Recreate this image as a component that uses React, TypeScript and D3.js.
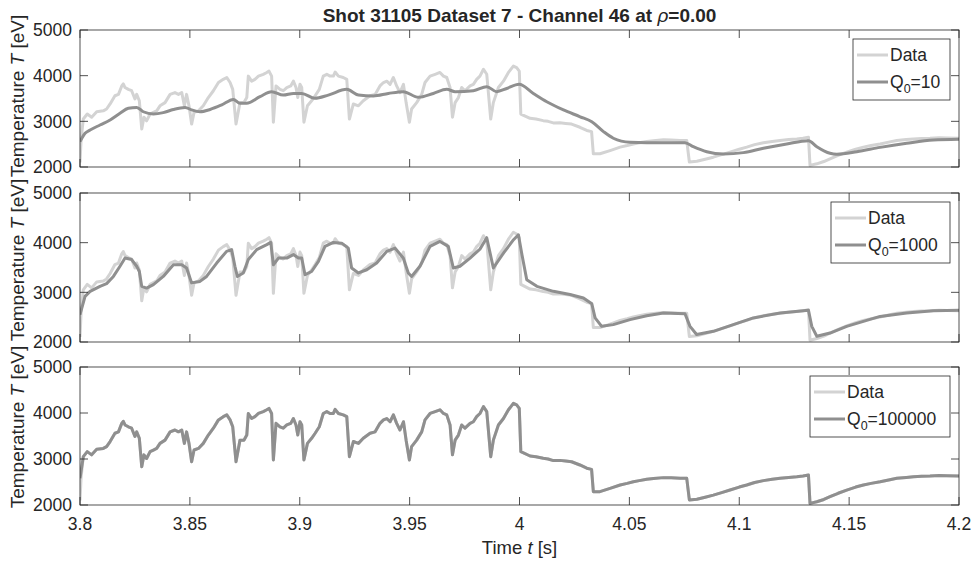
import React from "react";
import * as d3 from "d3";

const FONT = '"Liberation Sans", Arial, Helvetica, sans-serif';
const TEXT = "#262626";

const titleText = "Shot 31105 Dataset 7 - Channel 46 at ";
const xTicks = [3.8, 3.85, 3.9, 3.95, 4.0, 4.05, 4.1, 4.15, 4.2];
const xTickLabels = ["3.8", "3.85", "3.9", "3.95", "4", "4.05", "4.1", "4.15", "4.2"];
const yTicks = [2000, 3000, 4000, 5000];
const legendLabels = ["10", "1000", "100000"];

// Measured data (same in every panel)
const dataSeries: [number, number][] = [
  [3.8, 2100], [3.8005, 2600], [3.8015, 3050], [3.8033, 3160], [3.8053, 3090], [3.8076, 3210],
  [3.8106, 3230], [3.8121, 3270], [3.8137, 3380], [3.8159, 3560], [3.8175, 3590], [3.819, 3775],
  [3.8197, 3820], [3.8205, 3740], [3.822, 3700], [3.8235, 3670], [3.825, 3490], [3.8258, 3590],
  [3.827, 3450], [3.8281, 2830], [3.8291, 3090], [3.8303, 3010], [3.8319, 3160], [3.8334, 3195],
  [3.8349, 3230], [3.8364, 3340], [3.8387, 3410], [3.841, 3590], [3.8432, 3630], [3.8448, 3590],
  [3.8463, 3630], [3.8475, 3340], [3.8485, 3590], [3.8496, 3340], [3.8508, 2940], [3.8519, 3195],
  [3.8539, 3230], [3.8561, 3340], [3.8584, 3520], [3.8607, 3670], [3.863, 3850], [3.8652, 3920],
  [3.8668, 3960], [3.8683, 3850], [3.8695, 3700], [3.871, 2940], [3.8728, 3410], [3.8746, 3410],
  [3.8759, 3520], [3.8766, 3990], [3.8781, 3880], [3.8796, 3920], [3.8812, 3990], [3.8834, 4030],
  [3.885, 4070], [3.886, 4100], [3.8872, 3990], [3.888, 2980], [3.8892, 3775], [3.891, 3700],
  [3.8925, 3670], [3.8941, 3740], [3.8959, 3775], [3.8971, 3880], [3.8983, 3740], [3.8991, 3520],
  [3.9001, 3810], [3.9009, 3740], [3.9019, 2980], [3.9035, 3340], [3.9054, 3450], [3.907, 3560],
  [3.9089, 3700], [3.9107, 3990], [3.9123, 4030], [3.9138, 3990], [3.9153, 3990], [3.9161, 4080],
  [3.9176, 3990], [3.9198, 3960], [3.9214, 3920], [3.9226, 3050], [3.9244, 3380], [3.9267, 3340],
  [3.9289, 3450], [3.932, 3560], [3.9343, 3590], [3.9365, 3775], [3.9381, 3850], [3.9396, 3880],
  [3.9411, 3810], [3.9426, 3960], [3.9441, 3775], [3.9456, 3630], [3.9472, 3810], [3.9484, 3410],
  [3.9499, 2980], [3.9509, 3270], [3.9532, 3410], [3.9555, 3590], [3.957, 3850], [3.9593, 3990],
  [3.9616, 4030], [3.9638, 4070], [3.9654, 3990], [3.9669, 3960], [3.9684, 3740], [3.9695, 3090],
  [3.9707, 3410], [3.9722, 3520], [3.9737, 3740], [3.9752, 3670], [3.9775, 3775], [3.979, 3810],
  [3.9805, 3920], [3.982, 3990], [3.9836, 4140], [3.9851, 4030], [3.9869, 3050], [3.9881, 3410],
  [3.9904, 3740], [3.9927, 3880], [3.9949, 4065], [3.9972, 4210], [3.9987, 4175], [3.9999, 4100],
  [4.0006, 3160], [4.0048, 3065], [4.0075, 3050], [4.0108, 3015], [4.013, 3000], [4.0154, 2965],
  [4.0184, 2970], [4.021, 2955], [4.0237, 2940], [4.0275, 2870], [4.0306, 2800], [4.0328, 2775],
  [4.0336, 2290], [4.0366, 2290], [4.0412, 2360], [4.0458, 2435], [4.049, 2470], [4.0518, 2505],
  [4.0545, 2530], [4.0579, 2560], [4.061, 2575], [4.0655, 2595], [4.069, 2590], [4.0731, 2580],
  [4.0761, 2580], [4.0773, 2110], [4.0807, 2125], [4.0845, 2170], [4.0882, 2215], [4.092, 2270],
  [4.0958, 2325], [4.1, 2390], [4.1034, 2435], [4.107, 2490], [4.111, 2530], [4.115, 2560],
  [4.1186, 2580], [4.1225, 2600], [4.1262, 2615], [4.129, 2630], [4.1315, 2650], [4.1322, 2035],
  [4.1353, 2070], [4.1385, 2120], [4.1413, 2180], [4.145, 2255], [4.1489, 2325], [4.153, 2390],
  [4.1565, 2435], [4.16, 2470], [4.1641, 2505], [4.168, 2545], [4.1717, 2580], [4.176, 2600],
  [4.1793, 2615], [4.183, 2625], [4.1868, 2630], [4.191, 2640], [4.1944, 2635], [4.2, 2630],
];

// Model, Q0 = 10
const modelQ10: [number, number][] = [
  [3.8, 2555], [3.8023, 2737], [3.8046, 2810], [3.8091, 2920], [3.8137, 3030], [3.8182, 3175],
  [3.822, 3285], [3.8258, 3305], [3.8288, 3210], [3.8334, 3160], [3.8379, 3190], [3.8425, 3260],
  [3.8478, 3305], [3.8508, 3250], [3.8546, 3210], [3.8592, 3260], [3.8645, 3360], [3.8698, 3480],
  [3.8728, 3395], [3.8758, 3395], [3.8819, 3540], [3.8872, 3650], [3.8925, 3575], [3.8971, 3610],
  [3.9009, 3610], [3.9069, 3505], [3.913, 3575], [3.9214, 3700], [3.9267, 3575], [3.9335, 3555],
  [3.9403, 3610], [3.9471, 3650], [3.954, 3525], [3.9608, 3610], [3.9669, 3700], [3.9707, 3650],
  [3.979, 3670], [3.9851, 3760], [3.9896, 3650], [3.9942, 3720], [3.9998, 3810], [4.0063, 3610],
  [4.0124, 3430], [4.02, 3250], [4.0276, 3100], [4.0329, 2990], [4.0382, 2775], [4.0427, 2630],
  [4.0503, 2540], [4.0579, 2533], [4.067, 2533], [4.0753, 2533], [4.0791, 2445], [4.0852, 2335],
  [4.0928, 2285], [4.1019, 2315], [4.111, 2410], [4.1216, 2505], [4.1315, 2575], [4.1353, 2445],
  [4.1413, 2300], [4.1444, 2280], [4.1535, 2335], [4.1641, 2430], [4.1762, 2520], [4.1883, 2590],
  [4.2, 2605],
];

// Model, Q0 = 1000
const modelQ1000: [number, number][] = [
  [3.8, 2550], [3.8023, 2920], [3.8046, 3020], [3.8091, 3120], [3.8121, 3175], [3.8152, 3320],
  [3.8182, 3525], [3.8205, 3690], [3.8235, 3660], [3.8258, 3525], [3.827, 3420], [3.8281, 3120],
  [3.8303, 3085], [3.8334, 3155], [3.8379, 3320], [3.8425, 3555], [3.8463, 3555], [3.8485, 3490],
  [3.8508, 3190], [3.8546, 3220], [3.8576, 3320], [3.8622, 3590], [3.8667, 3825], [3.869, 3860],
  [3.8705, 3525], [3.8716, 3320], [3.8743, 3390], [3.8766, 3660], [3.8804, 3860], [3.885, 3960],
  [3.8868, 4005], [3.888, 3555], [3.8903, 3690], [3.8941, 3690], [3.8971, 3760], [3.8994, 3690],
  [3.9009, 3690], [3.9024, 3355], [3.9054, 3420], [3.9085, 3625], [3.9115, 3925], [3.9153, 4005],
  [3.9191, 3990], [3.9221, 3890], [3.9236, 3490], [3.9267, 3390], [3.9305, 3455], [3.935, 3590],
  [3.9396, 3825], [3.9434, 3890], [3.9471, 3690], [3.9494, 3390], [3.9509, 3320], [3.9547, 3525],
  [3.9593, 3925], [3.9638, 4025], [3.9676, 3925], [3.9699, 3490], [3.9729, 3525], [3.9775, 3690],
  [3.982, 3870], [3.9851, 4100], [3.9881, 3490], [3.9927, 3790], [3.9973, 4060], [3.9995, 4160],
  [4.0011, 3760], [4.0033, 3255], [4.0079, 3120], [4.0154, 3020], [4.023, 2955], [4.0291, 2885],
  [4.0329, 2770], [4.0344, 2485], [4.0374, 2315], [4.0427, 2350], [4.0503, 2450], [4.0579, 2530],
  [4.0655, 2585], [4.0753, 2570], [4.0776, 2315], [4.0806, 2150], [4.0882, 2215], [4.0973, 2350],
  [4.1064, 2485], [4.1186, 2585], [4.1315, 2640], [4.133, 2315], [4.1353, 2115], [4.1413, 2180],
  [4.1489, 2315], [4.1565, 2415], [4.1641, 2515], [4.1762, 2585], [4.1883, 2630], [4.2, 2640],
];

// Model, Q0 = 100000 (follows the data almost exactly)
const modelQ100000: [number, number][] = [
  [3.8, 2580], [3.8015, 3050], [3.8033, 3160], [3.8053, 3090], [3.8076, 3210],
  [3.8106, 3230], [3.8121, 3270], [3.8137, 3380], [3.8159, 3560], [3.8175, 3590], [3.819, 3775],
  [3.8197, 3820], [3.8205, 3740], [3.822, 3700], [3.8235, 3670], [3.825, 3490], [3.8258, 3590],
  [3.827, 3450], [3.8281, 2830], [3.8291, 3090], [3.8303, 3010], [3.8319, 3160], [3.8334, 3195],
  [3.8349, 3230], [3.8364, 3340], [3.8387, 3410], [3.841, 3590], [3.8432, 3630], [3.8448, 3590],
  [3.8463, 3630], [3.8475, 3340], [3.8485, 3590], [3.8496, 3340], [3.8508, 2940], [3.8519, 3195],
  [3.8539, 3230], [3.8561, 3340], [3.8584, 3520], [3.8607, 3670], [3.863, 3850], [3.8652, 3920],
  [3.8668, 3960], [3.8683, 3850], [3.8695, 3700], [3.871, 2940], [3.8728, 3410], [3.8746, 3410],
  [3.8759, 3520], [3.8766, 3990], [3.8781, 3880], [3.8796, 3920], [3.8812, 3990], [3.8834, 4030],
  [3.885, 4070], [3.886, 4100], [3.8872, 3990], [3.888, 2980], [3.8892, 3775], [3.891, 3700],
  [3.8925, 3670], [3.8941, 3740], [3.8959, 3775], [3.8971, 3880], [3.8983, 3740], [3.8991, 3520],
  [3.9001, 3810], [3.9009, 3740], [3.9019, 2980], [3.9035, 3340], [3.9054, 3450], [3.907, 3560],
  [3.9089, 3700], [3.9107, 3990], [3.9123, 4030], [3.9138, 3990], [3.9153, 3990], [3.9161, 4080],
  [3.9176, 3990], [3.9198, 3960], [3.9214, 3920], [3.9226, 3050], [3.9244, 3380], [3.9267, 3340],
  [3.9289, 3450], [3.932, 3560], [3.9343, 3590], [3.9365, 3775], [3.9381, 3850], [3.9396, 3880],
  [3.9411, 3810], [3.9426, 3960], [3.9441, 3775], [3.9456, 3630], [3.9472, 3810], [3.9484, 3410],
  [3.9499, 2980], [3.9509, 3270], [3.9532, 3410], [3.9555, 3590], [3.957, 3850], [3.9593, 3990],
  [3.9616, 4030], [3.9638, 4070], [3.9654, 3990], [3.9669, 3960], [3.9684, 3740], [3.9695, 3090],
  [3.9707, 3410], [3.9722, 3520], [3.9737, 3740], [3.9752, 3670], [3.9775, 3775], [3.979, 3810],
  [3.9805, 3920], [3.982, 3990], [3.9836, 4140], [3.9851, 4030], [3.9869, 3050], [3.9881, 3410],
  [3.9904, 3740], [3.9927, 3880], [3.9949, 4065], [3.9972, 4210], [3.9987, 4175], [3.9999, 4100],
  [4.0006, 3160], [4.0048, 3065], [4.0075, 3050], [4.0108, 3015], [4.013, 3000], [4.0154, 2965],
  [4.0184, 2970], [4.021, 2955], [4.0237, 2940], [4.0275, 2870], [4.0306, 2800], [4.0328, 2775],
  [4.0336, 2290], [4.0366, 2290], [4.0412, 2360], [4.0458, 2435], [4.049, 2470], [4.0518, 2505],
  [4.0545, 2530], [4.0579, 2560], [4.061, 2575], [4.0655, 2595], [4.069, 2590], [4.0731, 2580],
  [4.0761, 2580], [4.0773, 2110], [4.0807, 2125], [4.0845, 2170], [4.0882, 2215], [4.092, 2270],
  [4.0958, 2325], [4.1, 2390], [4.1034, 2435], [4.107, 2490], [4.111, 2530], [4.115, 2560],
  [4.1186, 2580], [4.1225, 2600], [4.1262, 2615], [4.129, 2630], [4.1315, 2650], [4.1322, 2035],
  [4.1353, 2070], [4.1385, 2120], [4.1413, 2180], [4.145, 2255], [4.1489, 2325], [4.153, 2390],
  [4.1565, 2435], [4.16, 2470], [4.1641, 2505], [4.168, 2545], [4.1717, 2580], [4.176, 2600],
  [4.1793, 2615], [4.183, 2625], [4.1868, 2630], [4.191, 2640], [4.1944, 2635], [4.2, 2630],
];

const models = [modelQ10, modelQ1000, modelQ100000];

const X0 = 80;
const X1 = 959;
const panels = [
  { top: 30, bottom: 167, labelY: 96, legendW: 97 },
  { top: 193, bottom: 342, labelY: 260, legendW: 119 },
  { top: 367, bottom: 505, labelY: 427, legendW: 140 },
];

const DATA_COLOR = "#d3d3d3";
const MODEL_COLOR = "#8f8f8f";

const x = d3.scaleLinear().domain([3.8, 4.2]).range([X0, X1]);

function Panel({ i }: { i: number }) {
  const p = panels[i];
  const y = d3.scaleLinear().domain([2000, 5000]).range([p.bottom, p.top]);
  const lin = d3.line<[number, number]>().x((d) => x(d[0])).y((d) => y(d[1]));
  const modelLine = d3
    .line<[number, number]>()
    .x((d) => x(d[0]))
    .y((d) => y(d[1]))
    .curve(i === 0 ? d3.curveMonotoneX : d3.curveLinear);
  const clipId = `clip${i}`;
  const tl = 8;
  const lx = X1 - 9 - p.legendW;
  const ly = p.top + 9;
  const lh = 61;
  return (
    <g>
      <defs>
        <clipPath id={clipId}>
          <rect x={X0} y={p.top} width={X1 - X0} height={p.bottom - p.top} />
        </clipPath>
      </defs>
      <rect x={X0} y={p.top} width={X1 - X0} height={p.bottom - p.top} fill="#fff" />
      <g clipPath={`url(#${clipId})`}>
        <path d={lin(dataSeries) || ""} fill="none" stroke={DATA_COLOR} strokeWidth={3} strokeLinejoin="round" />
        <path d={modelLine(models[i]) || ""} fill="none" stroke={MODEL_COLOR} strokeWidth={3} strokeLinejoin="round" />
      </g>
      {xTicks.map((t, k) => (
        <g key={`xt${k}`}>
          <line x1={x(t)} x2={x(t)} y1={p.bottom} y2={p.bottom - tl} stroke={TEXT} strokeWidth={0.8} />
          <line x1={x(t)} x2={x(t)} y1={p.top} y2={p.top + tl} stroke={TEXT} strokeWidth={0.8} />
        </g>
      ))}
      {yTicks.map((t, k) => (
        <g key={`yt${k}`}>
          <line x1={X0} x2={X0 + tl} y1={y(t)} y2={y(t)} stroke={TEXT} strokeWidth={0.8} />
          <line x1={X1} x2={X1 - tl} y1={y(t)} y2={y(t)} stroke={TEXT} strokeWidth={0.8} />
          <text x={72} y={y(t)} dy="0.36em" textAnchor="end" fontSize={17.5} fill={TEXT} fontFamily={FONT}>
            {t}
          </text>
        </g>
      ))}
      <rect x={X0} y={p.top} width={X1 - X0} height={p.bottom - p.top} fill="none" stroke={TEXT} strokeWidth={0.8} />
      {i === 2 &&
        xTicks.map((t, k) => (
          <text key={`xl${k}`} x={x(t)} y={530} textAnchor="middle" fontSize={17.5} fill={TEXT} fontFamily={FONT}>
            {xTickLabels[k]}
          </text>
        ))}
      <text
        transform={`translate(24,${p.labelY}) rotate(-90)`}
        textAnchor="middle"
        fontSize={19}
        fill={TEXT}
        fontFamily={FONT}
      >
        Temperature <tspan fontStyle="italic">T</tspan> [eV]
      </text>
      <g fontFamily={FONT} fontSize={17.5} fill={TEXT}>
        <rect x={lx} y={ly} width={p.legendW} height={lh} fill="#fff" stroke={TEXT} strokeWidth={0.8} />
        <line x1={lx + 4} x2={lx + 35} y1={ly + 16} y2={ly + 16} stroke={DATA_COLOR} strokeWidth={3} />
        <text x={lx + 37} y={ly + 16} dy="0.36em">Data</text>
        <line x1={lx + 4} x2={lx + 35} y1={ly + 43} y2={ly + 43} stroke={MODEL_COLOR} strokeWidth={3} />
        <text x={lx + 37} y={ly + 43} dy="0.36em">
          Q<tspan fontSize={12.5} dy="5">0</tspan>
          <tspan dy="-5">={legendLabels[i]}</tspan>
        </text>
      </g>
    </g>
  );
}

export default function App() {
  return (
    <svg
      width={974}
      height={563}
      style={{ position: "absolute", left: 0, top: 0, background: "#fff" }}
    >
      <rect x={0} y={0} width={974} height={563} fill="#fff" />
      {panels.map((_, i) => (
        <Panel key={i} i={i} />
      ))}
      <text x={(X0 + X1) / 2} y={22} textAnchor="middle" fontSize={19} fontWeight="bold" fill={TEXT} fontFamily={FONT}>
        {titleText}
        <tspan fontStyle="italic" fontWeight="normal">ρ</tspan>
        =0.00
      </text>
      <text x={(X0 + X1) / 2} y={554} textAnchor="middle" fontSize={18.5} fill={TEXT} fontFamily={FONT}>
        Time <tspan fontStyle="italic">t</tspan> [s]
      </text>
    </svg>
  );
}
